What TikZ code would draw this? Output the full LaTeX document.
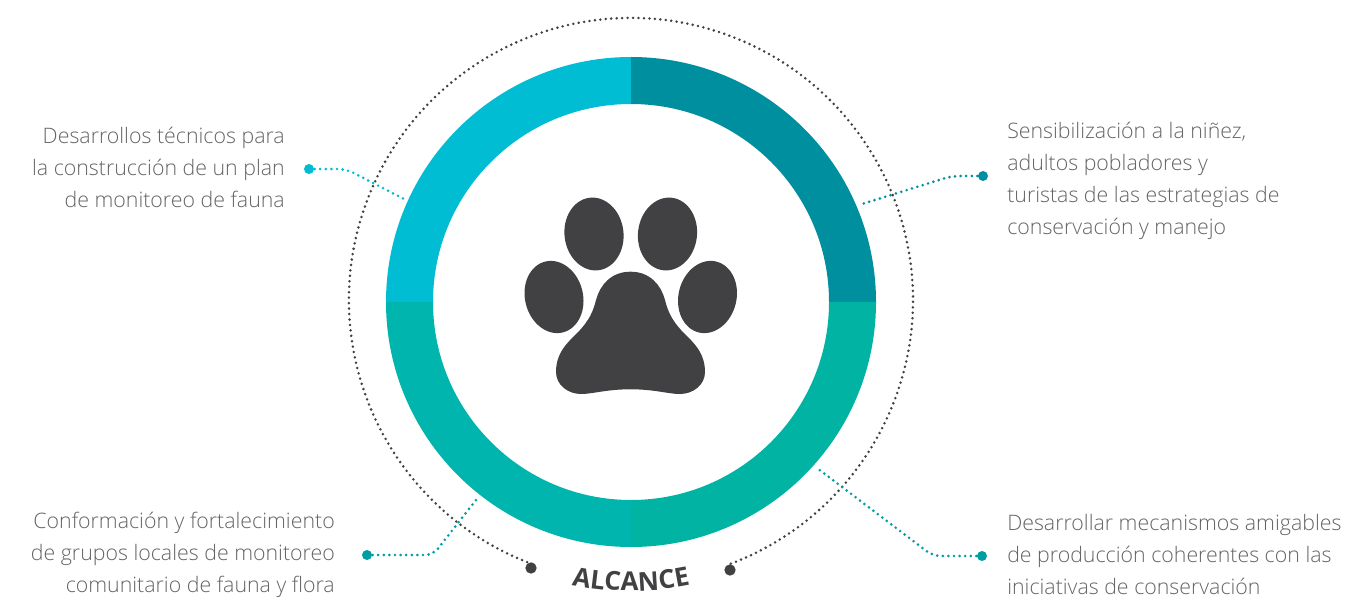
\documentclass[tikz,border=0pt]{standalone}
\usepackage{fontspec}
\setmainfont{Open Sans Light}
\newfontfamily\alcfont{Open Sans}[UprightFont=* Bold]
\usetikzlibrary{decorations.text}
\definecolor{ringa}{HTML}{00BDD3}
\definecolor{ringb}{HTML}{008F9E}
\definecolor{ringc}{HTML}{00B5AD}
\definecolor{ringd}{HTML}{00B3A3}
\definecolor{leadc}{HTML}{009DA3}
\definecolor{pawc}{HTML}{414042}
\definecolor{textc}{HTML}{636466}
\tikzset{
  label/.style={inner sep=0pt,text=textc,font=\fontsize{16}{24}\selectfont},
  leftlabel/.style={label,anchor=east,align=right},
  rightlabel/.style={label,anchor=west,align=left},
  enddot/.style={circle,fill=#1,inner sep=0pt,minimum size=7.5pt},
  leader/.style={draw=#1,line width=2.2pt,line cap=round,dash pattern=on 0pt off 4.2pt,rounded corners=6pt},
}
\begin{document}
\begin{tikzpicture}[x=0.75pt,y=0.75pt]
 \useasboundingbox (0,0) rectangle (1348,597);
 % ring
 \begin{scope}[shift={(631,295)}]
  \fill[ringa](0,245) arc[start angle=90,end angle=180,radius=245]--(-198,0) arc[start angle=180,end angle=90,radius=198]--cycle;
  \fill[ringb](0,245) arc[start angle=90,end angle=0,radius=245]--(198,0) arc[start angle=0,end angle=90,radius=198]--cycle;
  \fill[ringc](-245,0) arc[start angle=180,end angle=270,radius=245]--(0,-198) arc[start angle=270,end angle=180,radius=198]--cycle;
  \fill[ringd](245,0) arc[start angle=0,end angle=-90,radius=245]--(0,-198) arc[start angle=-90,end angle=0,radius=198]--cycle;
 \end{scope}
 % outer dotted circle
 \node[enddot=pawc,minimum size=8.5pt] (startdot) at (531,29) {};
 \node[enddot=pawc,minimum size=8.5pt] (enddot) at (730,27) {};
 \draw[pawc,line width=2.1pt,line cap=round,dash pattern=on 0pt off 4.1pt]
   (532.2,32.9) arc[start angle=249.5,end angle=-70,radius=282];
 % paw
 \fill[pawc,rotate around={7:(594,363)}](594,363) ellipse[x radius=29.5,y radius=36.5];
 \fill[pawc,rotate around={-7:(667.5,363)}](667.5,363) ellipse[x radius=29.5,y radius=36.5];
 \fill[pawc,rotate around={14:(554,300)}](554,300) ellipse[x radius=29,y radius=36.5];
 \fill[pawc,rotate around={-14:(707.5,300)}](707.5,300) ellipse[x radius=29,y radius=36.5];
 \fill[pawc](630.5,325.3) .. controls (650,325.3) and (661,312) .. (665,297)
   .. controls (668,285) and (672,277) .. (681,267)
   .. controls (690,257) and (705,247) .. (705,225)
   .. controls (705,212) and (693,203) .. (680,203)
   .. controls (668,203) and (655,207.7) .. (630.5,207.7)
   .. controls (606,207.7) and (593,203) .. (581,203)
   .. controls (568,203) and (556,212) .. (556,225)
   .. controls (556,247) and (571,257) .. (580,267)
   .. controls (589,277) and (593,285) .. (596,297)
   .. controls (600,312) and (611,325.3) .. (630.5,325.3) -- cycle;
 % labels
 \node[leftlabel] (tecnicos) at (285,430) {Desarrollos técnicos para\\la construcción de un plan\\de monitoreo de fauna};
 \node[leftlabel] (grupos) at (335,42) {Conformación y fortalecimiento\\de grupos locales de monitoreo\\comunitario de fauna y flora};
 \node[rightlabel] (ninez) at (1007,416.5) {Sensibilización a la niñez,\\adultos pobladores y\\turistas de las estrategias de\\conservación y manejo};
 \node[rightlabel] (mecanismos) at (1007,43) {Desarrollar mecanismos amigables\\de producción coherentes con las\\iniciativas de conservación};
 % leaders
 \node[enddot=ringa] (dota) at (309,428) {};
 \node[enddot=ringb] (dotb) at (983,421) {};
 \node[enddot=leadc] (dotc) at (367,42) {};
 \node[enddot=leadc] (dotd) at (982,41) {};
 \coordinate (enda) at (404,398);
 \coordinate (endb) at (862,393);
 \coordinate (endc) at (476,97);
 \coordinate (endd) at (817,129);
 \draw[leader=ringa](dota.center)--(346,428)--(enda);
 \draw[leader=ringb](dotb.center)--(952,421)--(endb);
 \draw[leader=leadc](dotc.center)--(433,42)--(endc);
 \draw[leader=leadc](dotd.center)--(933,41)--(endd);
 % curved title
 \path[decorate,decoration={text along path,text align=center,text color=pawc,
   text={|\alcfont\fontsize{19.5}{20}\selectfont|ALCANCE}}]
   (631,296) ++(-110:290) arc[start angle=250,end angle=290,radius=290];
\end{tikzpicture}
\end{document}
